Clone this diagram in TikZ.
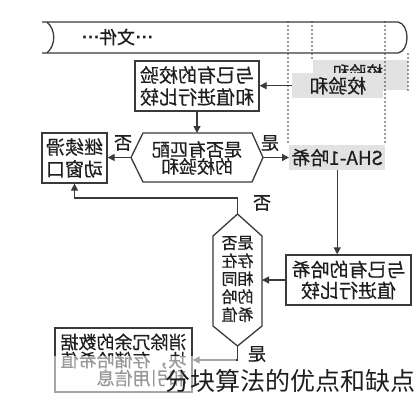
\documentclass[tikz,border=0pt]{standalone}
\usepackage{graphicx}
\usepackage{fontspec}
\setmainfont{Noto Sans CJK SC}[FakeBold=0.5]
\newfontfamily\capfont{Noto Sans CJK SC}
\newfontfamily\lat{Liberation Sans}
\usetikzlibrary{arrows.meta}
\definecolor{lc}{HTML}{3A3A3A}
\definecolor{gfill}{HTML}{E2E2E2}
\definecolor{tc}{HTML}{1E1E1E}
\newcommand\rf[1]{\reflectbox{#1}}
\begin{document}
\begin{tikzpicture}[x=1pt,y=-1pt,
  ln/.style={draw=lc, line width=1.3pt},
  arr/.style={draw=lc, line width=1.3pt, -{Triangle[length=7pt,width=7pt]}},
  box/.style={draw=lc, line width=1.3pt, fill=white, inner sep=0pt, align=center, text=tc, font=\fontsize{19}{22}\selectfont},
  gbox/.style={fill=gfill, inner sep=0pt, text=tc, font=\fontsize{19}{20}\selectfont},
  tx/.style={inner sep=0pt, align=center, text=tc, font=\fontsize{18}{17}\selectfont},
  dotline/.style={draw=lc, line width=1.6pt, line cap=round, dash pattern=on 0pt off 4pt},
  lbl/.style={inner sep=0pt, text=tc, font=\fontsize{18}{18}\selectfont}]
\useasboundingbox (0,0) rectangle (420,400);
\fill[white] (0,0) rectangle (420,400);

% file scroll
\draw[ln] (42,22) -- (398,22) .. controls (410,24) and (410,51) .. (398,53) -- (42,53);
\draw[ln] (47,22) .. controls (56,30) and (56,45) .. (47,53);
\node[tx] (file) at (117,37) {\rf{{\lat\bfseries···}文件{\lat\bfseries···}}};

% checksum boxes
\node[gbox, minimum width=95pt, minimum height=30pt, anchor=north west] (ckb) at (313,60) {};
\node[tx, font=\fontsize{17}{17}\selectfont] (ckbt) at (358,72) {\rf{校验和}};
\draw[dotline] (288,22) -- (288,145);
\draw[dotline] (312,22) -- (312,60);
\draw[dotline] (385,22) -- (385,145);
\draw[dotline] (408,54) -- (408,90);
\node[gbox, minimum width=91pt, minimum height=25pt, anchor=north west] (ck) at (292,73) {\rf{校验和}};

% compare with existing checksums
\node[box, minimum width=124pt, minimum height=50pt] (cmp1) at (197,86) {\rf{与已有的校验}\\\rf{和值进行比较}};

% decision 1
\draw[ln, fill=white] (131,157.5) -- (143,133) -- (252,133) -- (263,157.5) -- (252,182) -- (143,182) -- cycle;
\coordinate (q1t) at (197,133);
\coordinate (q1l) at (131,157.5);
\coordinate (q1r) at (263,157.5);
\node[tx] (q1) at (197,158) {\rf{是否有匹配}\\\rf{的校验和}};

% continue sliding window
\node[box, minimum width=65pt, minimum height=50pt] (b1) at (74.5,158) {\rf{继续滑}\\\rf{动窗口}};

% SHA-1
\node[gbox, minimum width=96pt, minimum height=25pt, anchor=north west] (sha) at (289,145) {\rf{SHA-1哈希}};

% compare hashes
\node[box, minimum width=125pt, minimum height=50pt, font=\fontsize{19}{21}\selectfont] (cmp2) at (348.5,280) {\rf{与已有的哈希}\\\rf{值进行比较}};

% decision 2
\draw[ln, fill=white] (237.5,214) -- (262,236) -- (262,326) -- (237.5,346) -- (213,326) -- (213,236) -- cycle;
\coordinate (q2t) at (237.5,214);
\coordinate (q2b) at (237.5,346);
\coordinate (q2r) at (262,280);
\node[tx, font=\fontsize{16}{18}\selectfont] (q2) at (237.5,279) {\rf{是否}\\\rf{存在}\\\rf{相同}\\\rf{的哈}\\\rf{希值}};

% eliminate redundancy
\node[box, minimum width=137pt, minimum height=64pt, align=right, font=\fontsize{18}{18}\selectfont] (b3) at (123.5,360) {\rf{消除冗余的数据}\\\rf{块，存储哈希值}\\\rf{和引用信息}};

% connectors
\draw[arr] (ck.west) -- (cmp1.east |- ck.west);
\draw[arr] (cmp1.south) -- (q1t);
\draw[arr] (q1l) -- (b1.east |- q1l);
\draw[arr] (q1r) -- (sha.west |- q1r);
\draw[arr] (sha.south) -- (sha.south |- cmp2.north);
\draw[arr] (cmp2.west |- q2r) -- (q2r);
\draw[arr] (q2t) -- ++(0,-16) -| (b1.south);
\draw[arr] (q2b) |- (b3.east);

% labels
\node[lbl] (l1) at (123,143) {\rf{否}};
\node[lbl] (l2) at (270,143) {\rf{是}};
\node[lbl] (l3) at (262,203) {\rf{否}};
\node[lbl] (l4) at (257,354) {\rf{是}};

% caption band
\fill[white, opacity=0.55] (48,356) rectangle (236,400);
\node[inner sep=0pt, text=tc, font=\capfont\fontsize{25}{25}\selectfont] (cap) at (290,381) {分块算法的优点和缺点};
\end{tikzpicture}
\end{document}
